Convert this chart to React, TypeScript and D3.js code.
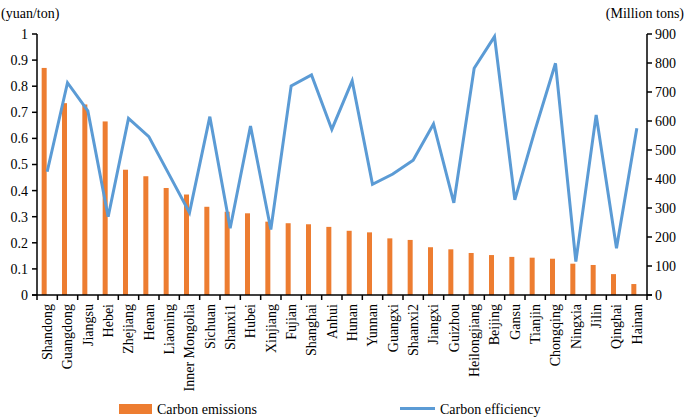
import React from "react";
import * as d3 from "d3";

const provinces = ["Shandong","Guangdong","Jiangsu","Hebei","Zhejiang","Henan","Liaoning","Inner Mongolia","Sichuan","Shanxi1","Hubei","Xinjiang","Fujian","Shanghai","Anhui","Hunan","Yunnan","Guangxi","Shaanxi2","Jiangxi","Guizhou","Heilongjiang","Beijing","Gansu","Tianjin","Chongqing","Ningxia","Jilin","Qinghai","Hainan"];
const carbonEmissions = [0.87,0.735,0.73,0.665,0.48,0.455,0.41,0.385,0.338,0.319,0.313,0.281,0.275,0.271,0.261,0.246,0.240,0.217,0.211,0.183,0.175,0.161,0.153,0.146,0.143,0.139,0.120,0.115,0.080,0.042];
const carbonEfficiency = [425,732,635,270,609,546,415,284,615,230,583,226,721,759,571,738,382,417,465,590,318,782,891,328,570,799,115,621,161,575];
const leftTicks = [0,0.1,0.2,0.3,0.4,0.5,0.6,0.7,0.8,0.9,1];
const rightTicks = [0,100,200,300,400,500,600,700,800,900];

const W = 685, H = 419;
const left = 37, right = 647, top = 34, bottom = 295;
const ORANGE = "#ED7D31", BLUE = "#5B9BD5";
const FONT = "'Liberation Serif', 'Times New Roman', serif";

export default function App() {
  const x = d3.scaleBand<string>().domain(provinces).range([left, right]).padding(0);
  const yL = d3.scaleLinear().domain([0, 1]).range([bottom, top]);
  const yR = d3.scaleLinear().domain([0, 900]).range([bottom, top]);
  const bw = x.bandwidth();
  const cx = (p: string) => (x(p) as number) + bw / 2;
  const line = d3.line<number>().x((_, i) => cx(provinces[i])).y(v => yR(v));
  const boundaries = d3.range(provinces.length + 1).map(i => left + i * bw);

  return (
    <svg width={W} height={H} style={{ position: "absolute", left: 0, top: 0, background: "#fff" }} fontFamily={FONT}>
      <text x={1} y={18} fontSize={14}>(yuan/ton)</text>
      <text x={684} y={18} fontSize={14} textAnchor="end">(Million tons)</text>
      {provinces.map((p, i) => (
        <rect key={p} x={cx(p) - 5.5} y={yL(carbonEmissions[i])} width={5} height={bottom - yL(carbonEmissions[i])} fill={ORANGE} />
      ))}
      <path d={line(carbonEfficiency) || ""} fill="none" stroke={BLUE} strokeWidth={3} strokeLinejoin="miter" />
      {/* left axis */}
      <line x1={left} x2={left} y1={top} y2={bottom} stroke="#000" strokeWidth={1.5} />
      {leftTicks.map(t => (
        <g key={t}>
          <line x1={left - 5} x2={left} y1={yL(t)} y2={yL(t)} stroke="#000" strokeWidth={1.5} />
          <text x={28} y={yL(t)} dy="0.35em" fontSize={14} textAnchor="end">{t}</text>
        </g>
      ))}
      {/* right axis */}
      <line x1={right} x2={right} y1={top} y2={bottom} stroke="#000" strokeWidth={1.5} />
      {rightTicks.map(t => (
        <g key={t}>
          <line x1={right} x2={right + 5} y1={yR(t)} y2={yR(t)} stroke="#000" strokeWidth={1.5} />
          <text x={655} y={yR(t)} dy="0.35em" fontSize={14}>{t}</text>
        </g>
      ))}
      {/* bottom axis */}
      <line x1={left - 5} x2={right + 5} y1={bottom} y2={bottom} stroke="#000" strokeWidth={1.5} />
      {boundaries.map((b, i) => (
        <line key={i} x1={b} x2={b} y1={bottom} y2={bottom + 5} stroke="#000" strokeWidth={1.5} />
      ))}
      {provinces.map(p => (
        <text key={p} transform={`translate(${cx(p)},${bottom + 9}) rotate(-90)`} dy="0.35em" fontSize={14} textAnchor="end">{p}</text>
      ))}
      {/* legend */}
      <rect x={119} y={404} width={33} height={10} fill={ORANGE} />
      <text x={157} y={414} fontSize={14}>Carbon emissions</text>
      <line x1={400} x2={435} y1={408.5} y2={408.5} stroke={BLUE} strokeWidth={3} />
      <text x={440} y={414} fontSize={14}>Carbon efficiency</text>
    </svg>
  );
}
